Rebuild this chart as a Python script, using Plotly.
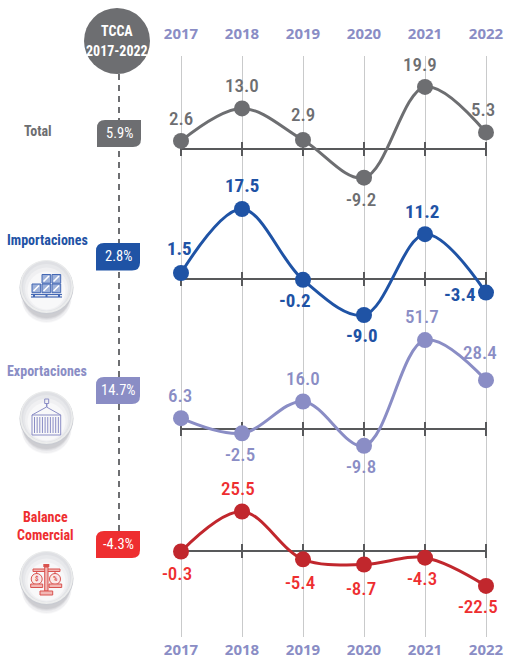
import plotly.graph_objects as go

W, H = 507, 658
years = [2017, 2018, 2019, 2020, 2021, 2022]
total = [2.6, 13.0, 2.9, -9.2, 19.9, 5.3]
importaciones = [1.5, 17.5, -0.2, -9.0, 11.2, -3.4]
exportaciones = [6.3, -2.5, 16.0, -9.8, 51.7, 28.4]
balance = [-0.3, 25.5, -5.4, -8.7, -4.3, -22.5]
tcca_labels = ["5.9%", "2.8%", "14.7%", "-4.3%"]

GRAY, BLUE, PERI, RED, DRED = "#6d6e71", "#1f53a5", "#8a8dc5", "#ee2e30", "#c1272d"
AXIS = "#58595b"
FONT = "Roboto Condensed, Lato, sans-serif"


def fx(x):
    return x / W


def fy(y):
    return 1 - y / H


# values, text colour, line colour, baseline px, px per unit, domain px, label offsets
panels = [
    (total, GRAY, GRAY, 149, 3.12, (60, 195),
     [(0, -22), (0, -23), (0, -25), (-3, 22), (-5, -22), (-3, -23)]),
    (importaciones, BLUE, BLUE, 279, 4.0, (200, 325),
     [(-2, -24), (0, -23), (-8, 21), (-2, 21), (-3, -23), (-26, 2)]),
    (exportaciones, PERI, PERI, 429, 1.72, (330, 460),
     [(-1, -23), (-2, 21), (0, -23), (-3, 21), (-3, -24), (-6, -28)]),
    (balance, RED, DRED, 551, 1.55, (495, 600),
     [(-4, 22), (-4, -23), (-3, 23), (-3, 24), (-3, 21), (-8, 21)]),
]

fig = go.Figure()
annotations = []
layout_axes = {}

x_lo = 2017 - 181 / 61.0
x_hi = x_lo + W / 61.0

fig.add_trace(go.Scatter(x=years, y=[0.5] * 6, mode="markers", marker=dict(opacity=0),
                         hoverinfo="skip", showlegend=False))
fig.add_trace(go.Scatter(x=years, y=[0.5] * 6, xaxis="x2", mode="markers", marker=dict(opacity=0),
                         hoverinfo="skip", showlegend=False))

for i, (vals, tcol, lcol, base, scale, dom, offs) in enumerate(panels):
    n = i + 2
    ya = f"y{n}"
    top, bottom = dom
    layout_axes[f"yaxis{n}"] = dict(
        domain=[fy(bottom), fy(top)],
        range=[(base - bottom) / scale, (base - top) / scale],
        visible=False, anchor="x", fixedrange=True,
    )
    fig.add_trace(go.Scatter(
        x=years, y=[0] * 6, yaxis=ya, mode="lines+markers",
        line=dict(color=AXIS, width=2),
        marker=dict(symbol="line-ns", size=10, line=dict(color=AXIS, width=2)),
        hoverinfo="skip", showlegend=False, cliponaxis=False))
    fig.add_trace(go.Scatter(
        x=years, y=vals, yaxis=ya, mode="lines+markers",
        line=dict(color=lcol, width=3, shape="spline", smoothing=1.0),
        marker=dict(size=16, color=lcol),
        showlegend=False, cliponaxis=False))
    for yr, v, (dx, dy) in zip(years, vals, offs):
        annotations.append(dict(
            x=yr, y=v, xref="x", yref=ya, text=f"{v:.1f}", showarrow=False,
            xanchor="center", yanchor="middle", xshift=dx, yshift=-dy,
            font=dict(family=FONT, size=19, color=tcol, weight=700 if tcol == BLUE else 500),
        ))

shapes = []


def rect(x0, y0, x1, y1, **kw):
    shapes.append(dict(type="rect", xref="paper", yref="paper",
                       x0=fx(x0), x1=fx(x1), y0=fy(y0), y1=fy(y1), **kw))


def circle(cx, cy, r, **kw):
    shapes.append(dict(type="circle", xref="paper", yref="paper",
                       x0=fx(cx - r), x1=fx(cx + r), y0=fy(cy + r), y1=fy(cy - r), **kw))


def seg(x0, y0, x1, y1, color, width=1):
    shapes.append(dict(type="line", xref="paper", yref="paper",
                       x0=fx(x0), x1=fx(x1), y0=fy(y0), y1=fy(y1),
                       line=dict(color=color, width=width)))


def text(x, y, s, color, size=14, bold=True):
    annotations.append(dict(x=fx(x), y=fy(y), xref="paper", yref="paper", text=s,
                            showarrow=False, xanchor="center", yanchor="middle",
                            font=dict(family=FONT, size=size, color=color,
                                      weight="bold" if bold else "normal")))


shapes.append(dict(type="line", xref="paper", yref="paper", x0=fx(119), x1=fx(119),
                   y0=fy(74), y1=fy(531), line=dict(color=GRAY, width=2, dash="6px,5px")))
circle(117, 41, 33, fillcolor=GRAY, line=dict(width=0))
text(117, 31, "TCCA", "white", 14)
text(117, 51, "2017-2022", "white", 14)

badges = [(97, 120, 141, 147, GRAY), (96, 243, 140, 270.5, BLUE),
          (96, 377, 140, 404, PERI), (96, 531, 140, 558, RED)]
for (x0, y0, x1, y1, col), lab in zip(badges, tcca_labels):
    r = 8
    path = (f"M{fx(x0)},{fy(y1)} L{fx(x0)},{fy(y0 + r)} Q{fx(x0)},{fy(y0)} {fx(x0 + r)},{fy(y0)} "
            f"L{fx(x1)},{fy(y0)} L{fx(x1)},{fy(y1 - r)} Q{fx(x1)},{fy(y1)} {fx(x1 - r)},{fy(y1)} Z")
    shapes.append(dict(type="path", xref="paper", yref="paper", path=path,
                       fillcolor=col, line=dict(width=0)))
    text((x0 + x1) / 2, (y0 + y1) / 2, lab, "white", 14.5, bold=False)

text(38, 131, "Total", GRAY, 14)
text(47, 240, "Importaciones", BLUE, 14)
text(47, 371, "Exportaciones", PERI, 14)
text(45, 517, "Balance", RED, 14)
text(45, 535, "Comercial", RED, 14)

for cx, cy in [(46.5, 287), (46.5, 418), (46.5, 578)]:
    for dy, r, op in [(11, 25, 0.05), (10, 25, 0.07), (9, 24, 0.09), (8, 24, 0.11), (7, 24, 0.13)]:
        circle(cx, cy + dy, r, fillcolor="#7d7f8a", opacity=op, line=dict(width=0))
    circle(cx, cy + 0.5, 27, fillcolor="#c9cbd1", line=dict(width=0))
    circle(cx, cy - 0.5, 26.5, fillcolor="#eceded", line=dict(width=0))
    circle(cx, cy - 1, 25, fillcolor="#dfe0e4", line=dict(width=0))
    circle(cx, cy + 0.5, 23.5, fillcolor="#e7e8eb", line=dict(width=0))
    circle(cx, cy + 2, 21.5, fillcolor="#f0f0f2", line=dict(width=0))
    circle(cx, cy + 3.5, 19, fillcolor="#f8f8f9", line=dict(width=0))

IC = "#4468b4"
for x0, y0 in [(32, 284), (42, 284), (52, 284), (42, 274.5), (52, 274.5)]:
    rect(x0, y0, x0 + 8.7, y0 + 8.7, fillcolor="#9fb2da", line=dict(color=IC, width=1))
    seg(x0 + 1.5, y0 + 7, x0 + 7, y0 + 1.5, "white", 1.6)
seg(31, 294.5, 62, 294.5, IC, 1.2)
seg(31, 297, 62, 297, IC, 1.2)
for x in (34, 46.5, 59):
    seg(x, 294.5, x, 297, IC, 2)

IC = PERI
rect(32, 415, 60.7, 435, line=dict(color=IC, width=1))
for k in range(10):
    x = 34.5 + k * 2.65
    seg(x, 417, x, 433, IC, 1)
seg(46.5, 407, 32, 415, IC, 1)
seg(46.5, 407, 60.7, 415, IC, 1)
rect(44.7, 399, 48.7, 403.5, line=dict(color=IC, width=1))
seg(46.7, 403.5, 46.7, 407, IC, 1.5)

IC = "#d9534f"
rect(43.3, 564, 49.3, 567, fillcolor=IC, line=dict(width=0))
rect(33, 569, 60, 571.5, fillcolor="#f2b8b5", line=dict(color=IC, width=1))
rect(44.7, 567, 48, 591, fillcolor="#f2b8b5", line=dict(color=IC, width=1))
rect(40, 591, 52.7, 595, fillcolor="#f2b8b5", line=dict(color=IC, width=1))
for cx, x0, x1, sym in [(36.7, 30.7, 42.7, "$"), (55, 49, 61.7, "%")]:
    circle(cx, 579, 5.5, fillcolor="#fbe9e8", line=dict(color=IC, width=1))
    rect(x0, 584, x1, 587.5, fillcolor="#f2b8b5", line=dict(color=IC, width=1))
    seg(cx, 571, cx, 574, IC, 1)
    text(cx, 579, sym, IC, 7)

year_font = dict(family="Open Sans", size=15, color=PERI, weight="bold")
fig.update_layout(
    width=W, height=H, margin=dict(l=0, r=0, t=0, b=0, autoexpand=False),
    paper_bgcolor="white", plot_bgcolor="white", showlegend=False,
    xaxis=dict(domain=[0, 1], range=[x_lo, x_hi], anchor="y", side="top",
               tickmode="array", tickvals=years, ticks="", showline=False, zeroline=False,
               showgrid=True, gridcolor="#c9cacb", gridwidth=1,
               tickfont=year_font, ticklabelstandoff=13, fixedrange=True),
    xaxis2=dict(domain=[0, 1], range=[x_lo, x_hi], anchor="y", side="bottom", overlaying="x",
                tickmode="array", tickvals=years, ticks="", showline=False, zeroline=False,
                showgrid=False, tickfont=year_font, ticklabelstandoff=2, fixedrange=True),
    yaxis=dict(domain=[fy(637), fy(56)], range=[0, 1], visible=False, fixedrange=True),
    shapes=shapes, annotations=annotations,
    **layout_axes,
)

fig.write_html("out.html", config=dict(displayModeBar=False),
               post_script="document.body.style.margin='0';")
